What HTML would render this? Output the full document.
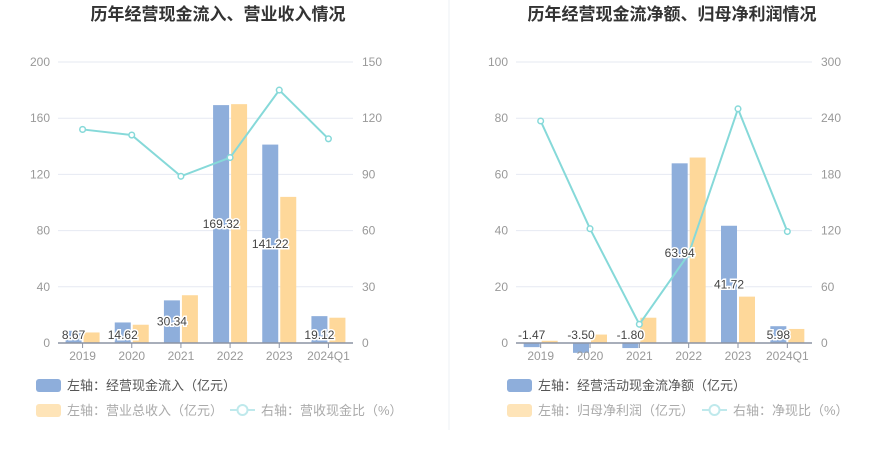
<!DOCTYPE html>
<html><head><meta charset="utf-8">
<style>
body{margin:0;background:#fff;font-family:"Liberation Sans","Noto Sans CJK SC",sans-serif;}
svg text{font-family:"Liberation Sans","Noto Sans CJK SC",sans-serif;}
</style></head>
<body>
<svg id="c" width="893" height="458" viewBox="0 0 893 458">
<line x1="449" y1="0" x2="449" y2="430" stroke="#eef0f4"/>
</svg>
<script>
const categories = ["2019","2020","2021","2022","2023","2024Q1"];
const leftBlue = [8.67,14.62,30.34,169.32,141.22,19.12];
const leftYellow = [7.5,13,34,170,104,18];
const leftRatio = [114,111,89,99,135,109];
const leftTicksL = [0,40,80,120,160,200];
const leftTicksR = [0,30,60,90,120,150];
const rightBlue = [-1.47,-3.50,-1.80,63.94,41.72,5.98];
const rightYellow = [0.8,3,9,66,16.5,5];
const rightRatio = [237,122,20,95,250,119];
const rightTicksL = [0,20,40,60,80,100];
const rightTicksR = [0,60,120,180,240,300];

const svg=document.getElementById('c');
const NS='http://www.w3.org/2000/svg';
function mk(tag,attrs,txt){const e=document.createElementNS(NS,tag);for(const k in attrs)e.setAttribute(k,attrs[k]);if(txt!==undefined)e.textContent=txt;svg.appendChild(e);return e;}

function drawChart(o){
  const top=62,bot=343;
  const yL=v=>bot-(v/o.maxL)*(bot-top);
  const yR=v=>bot-(v/o.maxR)*(bot-top);
  const step=(o.x1-o.x0)/categories.length;
  const xC=i=>o.x0+step*(i+0.5);
  let t=mk('text',{x:o.titleX,y:20,'text-anchor':'middle','font-size':17,'font-weight':'bold',fill:'#333'},o.title);
  
  
  o.ticksL.forEach((v,i)=>{
    const y=yL(v);
    if(i>0){const g=mk('line',{x1:o.x0,x2:o.x1,y1:y,y2:y,stroke:'#e6e9f2'});
      
      }
    const l=mk('text',{x:o.x0-8,y:y+4,'text-anchor':'end','font-size':12,fill:'#999'},v);
    
    
  });
  o.ticksR.forEach(v=>{
    const l=mk('text',{x:o.x1+9,y:yR(v)+4,'text-anchor':'start','font-size':12,fill:'#999'},v);
    
    
  });
  const bw=16;
  categories.forEach((c,i)=>{
    const xb=xC(i)-bw-1, xy=xC(i)+1;
    const vb=o.blue[i], vy=o.yellow[i];
    const b=mk('rect',{x:xb,y:Math.min(yL(vb),yL(0)),width:bw,height:Math.max(Math.abs(yL(0)-yL(vb)),0.5),fill:'#8eaedb'});
    
    
    const r=mk('rect',{x:xy,y:yL(vy),width:bw,height:yL(0)-yL(vy),fill:'#fed89a'});
    
    
  });
  const ax=mk('line',{x1:o.x0,x2:o.x1,y1:bot,y2:bot,stroke:'#8c93a3','stroke-width':1.5});
  
  
  categories.forEach((c,i)=>{
    const tk=mk('line',{x1:xC(i),x2:xC(i),y1:bot,y2:bot+5,stroke:'#8c93a3'});
    
    
    const l=mk('text',{x:xC(i),y:bot+17,'text-anchor':'middle','font-size':12,fill:'#999'},c);
    
    
  });
  const pts=o.ratio.map((v,i)=>xC(i)+','+yR(v)).join(' ');
  const pl=mk('polyline',{points:pts,fill:'none',stroke:'#86d9d9','stroke-width':2});
  
  
  o.ratio.forEach((v,i)=>{
    const d=mk('circle',{cx:xC(i),cy:yR(v),r:2.8,fill:'#fff',stroke:'#86d9d9','stroke-width':1.5});
    
    
  });
  categories.forEach((c,i)=>{
    const v=o.blue[i];
    const ly=v>20?yL(v/2)+4:yL(0)-4;
    const l=mk('text',{x:xC(i)-9,y:ly,'text-anchor':'middle','font-size':12,fill:'#444',stroke:'#fff','stroke-width':3,'paint-order':'stroke'},v.toFixed(2));
    
    
  });
  const lg=o.legendX;
  let s=mk('rect',{x:lg,y:379,width:25,height:13,rx:3,fill:'#8eaedb'});
  
  
  let l=mk('text',{x:lg+31,y:390,'font-size':13,fill:'#555'},o.leg1);
  
  
  s=mk('rect',{x:lg,y:404,width:25,height:13,rx:3,fill:'#fee4b8'});
  
  
  l=mk('text',{x:lg+31,y:415,'font-size':13,fill:'#aaa'},o.leg2);
  
  
  const lx=o.leg3X;
  s=mk('line',{x1:lx,x2:lx+25,y1:410,y2:410,stroke:'#bfe9ec','stroke-width':2});
  
  
  s=mk('circle',{cx:lx+12.5,cy:410,r:5,fill:'#fff',stroke:'#bfe9ec','stroke-width':2});
  
  
  l=mk('text',{x:lx+31,y:415,'font-size':13,fill:'#aaa'},o.leg3);
  
  
}
drawChart({p:'left',title:'历年经营现金流入、营业收入情况',titleX:218,x0:58,x1:353,maxL:200,maxR:150,
  ticksL:leftTicksL,ticksR:leftTicksR,blue:leftBlue,yellow:leftYellow,ratio:leftRatio,
  legendX:36,leg3X:230,leg1:'左轴：经营现金流入（亿元）',leg2:'左轴：营业总收入（亿元）',leg3:'右轴：营收现金比（%）'});
drawChart({p:'right',title:'历年经营现金流净额、归母净利润情况',titleX:672,x0:516,x1:812,maxL:100,maxR:300,
  ticksL:rightTicksL,ticksR:rightTicksR,blue:rightBlue,yellow:rightYellow,ratio:rightRatio,
  legendX:507,leg3X:702,leg1:'左轴：经营活动现金流净额（亿元）',leg2:'左轴：归母净利润（亿元）',leg3:'右轴：净现比（%）'});
</script>
</body></html>
